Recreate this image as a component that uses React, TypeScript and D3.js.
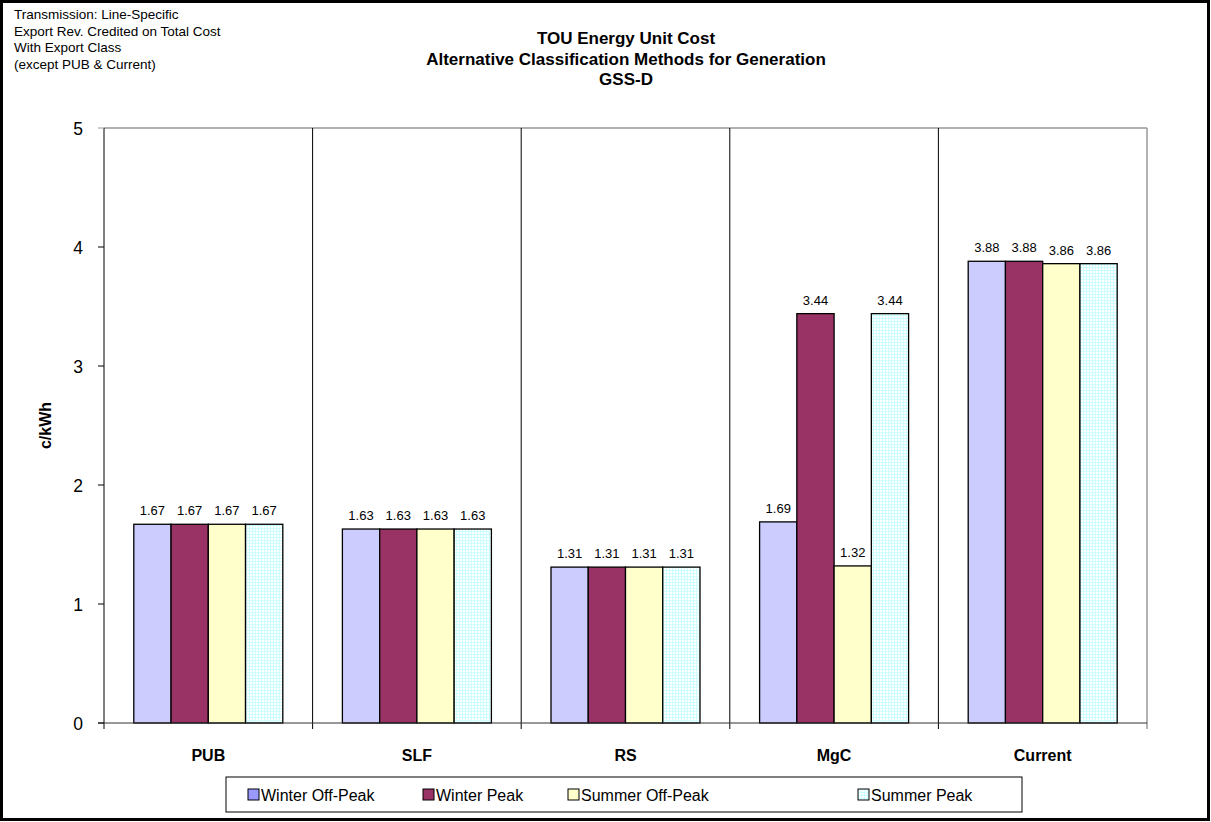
import React from "react";
import * as d3 from "d3";

const categories = ["PUB", "SLF", "RS", "MgC", "Current"];
const seriesNames = ["Winter Off-Peak", "Winter Peak", "Summer Off-Peak", "Summer Peak"];
const winterOffPeak = [1.67, 1.63, 1.31, 1.69, 3.88];
const winterPeak = [1.67, 1.63, 1.31, 3.44, 3.88];
const summerOffPeak = [1.67, 1.63, 1.31, 1.32, 3.86];
const summerPeak = [1.67, 1.63, 1.31, 3.44, 3.86];
const yTicks = [0, 1, 2, 3, 4, 5];
const titleLines = ["TOU Energy Unit Cost", "Alternative Classification Methods for Generation", "GSS-D"];
const noteLines = ["Transmission: Line-Specific", "Export Rev. Credited on Total Cost", "With Export Class", "(except PUB & Current)"];

const series = [winterOffPeak, winterPeak, summerOffPeak, summerPeak];
const fills = ["#CCCCFF", "#993366", "#FFFFCC", "url(#cyanGrid)"];
const legendFills = ["#9999FF", "#993366", "#FFFFCC", "url(#cyanGrid)"];

const W = 1211, H = 822;
const plot = { left: 104, right: 1147, top: 128, bottom: 723 };
const font = "Arial, 'Liberation Sans', Helvetica, sans-serif";

export default function App() {
  const x0 = d3.scaleBand().domain(categories).range([plot.left, plot.right]).paddingInner(0).paddingOuter(0);
  const bw = x0.bandwidth() / 5.6;
  const y = d3.scaleLinear().domain([0, 5]).range([plot.bottom, plot.top]);
  const legendX = [248, 423, 568, 858];

  return (
    <svg width={W} height={H} style={{ position: "absolute", left: 0, top: 0, background: "#fff" }} fontFamily={font}>
      <defs>
        <pattern id="cyanGrid" width="3" height="3" patternUnits="userSpaceOnUse">
          <rect width="3" height="3" fill="#ffffff" />
          <rect width="3" height="1" fill="#CCFFFF" />
          <rect width="1" height="3" fill="#CCFFFF" />
        </pattern>
      </defs>
      <rect x={1.5} y={1.5} width={W - 4} height={H - 4} fill="#fff" stroke="#000" strokeWidth={3} />
      {noteLines.map((t, i) => (
        <text key={t} x={14} y={19 + i * 16.5} fontSize={13.5} fill="#000">{t}</text>
      ))}
      {titleLines.map((t, i) => (
        <text key={t} x={626} y={44 + i * 20.5} fontSize={17} fontWeight="bold" textAnchor="middle" fill="#000">{t}</text>
      ))}
      {/* plot border */}
      <line x1={plot.left} x2={plot.right} y1={plot.top} y2={plot.top} stroke="#999" strokeWidth={1.5} />
      <line x1={plot.right} x2={plot.right} y1={plot.top} y2={plot.bottom + 6} stroke="#999" strokeWidth={1.5} />
      {/* category separators */}
      {categories.slice(1).map((c) => (
        <line key={c} x1={x0(c)!} x2={x0(c)!} y1={plot.top} y2={plot.bottom + 6} stroke="#000" strokeWidth={1} />
      ))}
      {/* bars */}
      {categories.map((c, ci) => (
        <g key={c}>
          {series.map((s, si) => {
            const bx = x0(c)! + bw * 0.8 + si * bw;
            const by = y(s[ci]);
            return (
              <g key={si}>
                <rect x={bx} y={by} width={bw} height={plot.bottom - by} fill={fills[si]} stroke="#000" strokeWidth={1.3} />
                <text x={bx + bw / 2} y={by - 9} fontSize={13} textAnchor="middle" fill="#000">{s[ci].toFixed(2)}</text>
              </g>
            );
          })}
          <text x={x0(c)! + x0.bandwidth() / 2} y={761} fontSize={16} fontWeight="bold" textAnchor="middle" fill="#000">{c}</text>
        </g>
      ))}
      {/* axes */}
      <line x1={plot.left} x2={plot.left} y1={plot.top} y2={plot.bottom + 6} stroke="#000" strokeWidth={1} />
      <line x1={plot.left - 6} x2={plot.right} y1={plot.bottom} y2={plot.bottom} stroke="#333" strokeWidth={1.2} />
      {yTicks.map((t) => (
        <g key={t}>
          <line x1={plot.left - 6} x2={plot.left} y1={y(t)} y2={y(t)} stroke={t === 5 ? "#999" : "#000"} strokeWidth={1} />
          <text x={83} y={y(t) + 6.5} fontSize={17.5} textAnchor="end" fill="#000">{t}</text>
        </g>
      ))}
      <text transform={`translate(51,${(plot.top + plot.bottom) / 2}) rotate(-90)`} fontSize={16} fontWeight="bold" textAnchor="middle" fill="#000">c/kWh</text>
      {/* legend */}
      <rect x={226} y={777} width={796} height={35} fill="#fff" stroke="#000" strokeWidth={1} />
      {seriesNames.map((n, i) => (
        <g key={n}>
          <rect x={legendX[i]} y={789} width={11} height={11} fill={legendFills[i]} stroke="#000" strokeWidth={1} />
          <text x={legendX[i] + 13} y={800.5} fontSize={16} fill="#000">{n}</text>
        </g>
      ))}
    </svg>
  );
}
